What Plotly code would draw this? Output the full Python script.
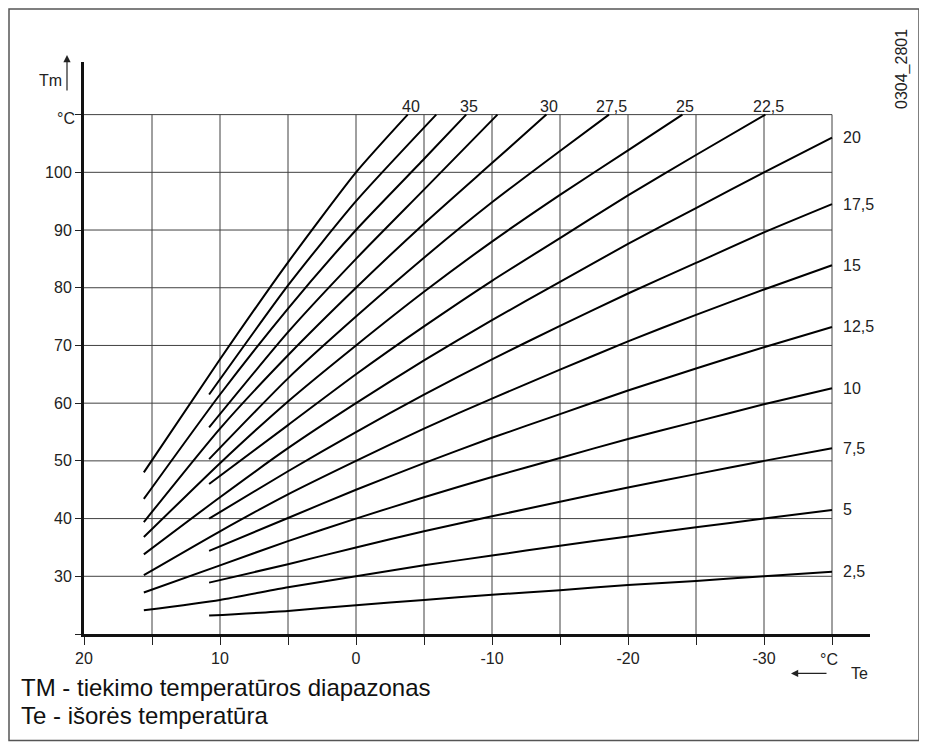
import plotly.graph_objects as go

# ---------------- data ----------------
# slope label of each heating curve
slopes = [40, 37.5, 35, 32.5, 30, 27.5, 25, 22.5, 20, 17.5, 15, 12.5, 10, 7.5, 5, 2.5]
slope_text = ["40", "37,5", "35", "32,5", "30", "27,5", "25", "22,5",
              "20", "17,5", "15", "12,5", "10", "7,5", "5", "2,5"]
top_labelled = ["40", "35", "30", "27,5", "25", "22,5"]

# outside temperature Te (°C) and flow temperature Tm (°C) per curve
te_40 = [15.6, 10, 5, 0, -3.8]
tm_40 = [48.0, 67.6, 84.4, 100.0, 110.0]
te_375 = [10.8, 5, 0, -5.9]
tm_375 = [61.5, 80.4, 95.0, 110.0]
te_35 = [15.6, 10, 5, 0, -5, -8.1]
tm_35 = [43.4, 61.5, 76.4, 90.0, 102.3, 110.0]
te_325 = [10.8, 5, 0, -5, -10.4]
tm_325 = [55.8, 72.3, 85.0, 97.0, 110.0]
te_30 = [15.6, 10, 5, 0, -5, -10, -14.0]
tm_30 = [39.4, 55.6, 68.3, 80.0, 91.1, 101.6, 110.0]
te_275 = [10.8, 5, 0, -5, -10, -15, -18.6]
tm_275 = [50.3, 64.3, 75.0, 85.2, 94.8, 103.7, 110.0]
te_25 = [15.6, 10, 5, 0, -5, -10, -15, -20, -24.0]
tm_25 = [36.8, 49.6, 60.3, 70.0, 79.3, 88.0, 96.1, 103.8, 110.0]
te_225 = [10.8, 5, 0, -5, -10, -15, -20, -25, -30.1]
tm_225 = [46.0, 56.2, 65.0, 73.3, 81.2, 88.6, 96.0, 103.0, 110.0]
te_20 = [15.6, 10, 5, 0, -5, -10, -15, -20, -25, -30, -35]
tm_20 = [33.8, 43.7, 52.2, 60.0, 67.4, 74.4, 81.0, 87.6, 93.8, 100.0, 106.0]
te_175 = [10.8, 5, 0, -5, -10, -15, -20, -25, -30, -35]
tm_175 = [40.0, 48.2, 55.0, 61.5, 67.6, 73.4, 79.0, 84.3, 89.6, 94.5]
te_15 = [15.6, 10, 5, 0, -5, -10, -15, -20, -25, -30, -35]
tm_15 = [30.2, 37.8, 44.2, 50.0, 55.6, 60.8, 65.8, 70.7, 75.3, 79.7, 83.9]
te_125 = [10.8, 5, 0, -5, -10, -15, -20, -25, -30, -35]
tm_125 = [34.4, 40.1, 45.0, 49.6, 54.0, 58.1, 62.2, 66.0, 69.7, 73.2]
te_10 = [15.6, 10, 5, 0, -5, -10, -15, -20, -25, -30, -35]
tm_10 = [27.2, 31.9, 36.1, 40.0, 43.7, 47.2, 50.5, 53.8, 56.8, 59.8, 62.6]
te_75 = [10.8, 5, 0, -5, -10, -15, -20, -25, -30, -35]
tm_75 = [28.9, 32.1, 35.0, 37.8, 40.4, 42.9, 45.4, 47.7, 50.0, 52.2]
te_5 = [15.6, 10, 5, 0, -5, -10, -15, -20, -25, -30, -35]
tm_5 = [24.1, 25.9, 28.1, 30.0, 31.9, 33.6, 35.3, 36.9, 38.5, 40.0, 41.5]
te_25b = [10.8, 5, 0, -5, -10, -15, -20, -25, -30, -35]
tm_25b = [23.2, 24.0, 25.0, 25.9, 26.8, 27.6, 28.5, 29.2, 30.0, 30.8]

curves_te = [te_40, te_375, te_35, te_325, te_30, te_275, te_25, te_225,
             te_20, te_175, te_15, te_125, te_10, te_75, te_5, te_25b]
curves_tm = [tm_40, tm_375, tm_35, tm_325, tm_30, tm_275, tm_25, tm_225,
             tm_20, tm_175, tm_15, tm_125, tm_10, tm_75, tm_5, tm_25b]

# axis ticks
x_ticks = [20, 15, 10, 5, 0, -5, -10, -15, -20, -25, -30, -35]
x_labels = ["20", "", "10", "", "0", "", "-10", "", "-20", "", "-30", ""]
y_ticks = [20, 30, 40, 50, 60, 70, 80, 90, 100, 110]
y_labels = ["", "30", "40", "50", "60", "70", "80", "90", "100", ""]

# ---------------- layout geometry ----------------
OFF = 8                                # page body margin of the browser
W, H = 927 - OFF, 744 - OFF
L, R, T, B = 84 - OFF, 870 - OFF, 62 - OFF, 634.5 - OFF   # plot area (px)
PX_X = 13.6                            # pixels per °C (Te)
PX_Y = 5.776                           # pixels per °C (Tm)
x_range = [20, 20 - (R - L) / PX_X]
y_range = [20, 20 + (B - T) / PX_Y]

def pxx(px):
    return (px - OFF - L) / (R - L)

def pxy(py):
    return (B - (py - OFF)) / (B - T)

FONT = "Liberation Sans, Arial, sans-serif"
TXT = "#222"
FS = 16

fig = go.Figure()

for te, tm in zip(curves_te, curves_tm):
    fig.add_trace(go.Scatter(
        x=te, y=tm, mode="lines",
        line=dict(color="black", width=2, shape="spline", smoothing=0.6),
        hoverinfo="skip", showlegend=False, cliponaxis=False))

shapes = []
grid_col = "#404040"
for xv in x_ticks[1:]:
    shapes.append(dict(type="line", xref="x", yref="y", x0=xv, x1=xv,
                       y0=y_ticks[0], y1=y_ticks[-1],
                       line=dict(color=grid_col, width=1), layer="below"))
for yv in y_ticks[1:]:
    shapes.append(dict(type="line", xref="x", yref="y", x0=x_ticks[0], x1=x_ticks[-1],
                       y0=yv, y1=yv,
                       line=dict(color=grid_col, width=1), layer="below"))
# outer frame
shapes.append(dict(type="rect", xref="paper", yref="paper",
                   x0=pxx(9), x1=pxx(919), y0=pxy(741), y1=pxy(9),
                   line=dict(color="#555", width=1.5), layer="below"))

annotations = []
# slope labels
for te, tm, lab in zip(curves_te, curves_tm, slope_text):
    if lab in top_labelled:
        annotations.append(dict(x=te[-1], y=tm[-1], xref="x", yref="y", text=lab,
                                showarrow=False, xanchor="center", yanchor="bottom",
                                xshift=3, yshift=-2, font=dict(size=FS, color=TXT, family=FONT)))
    elif te[-1] == x_ticks[-1]:
        annotations.append(dict(x=te[-1], y=tm[-1], xref="x", yref="y", text=lab,
                                showarrow=False, xanchor="left", yanchor="middle",
                                xshift=9, font=dict(size=FS, color=TXT, family=FONT)))

# °C unit at the top of the Tm axis
annotations.append(dict(x=pxx(77), y=pxy(119), xref="paper", yref="paper", text="°C",
                        showarrow=False, xanchor="right", yanchor="middle",
                        font=dict(size=FS, color=TXT, family=FONT)))
# Tm axis arrow and label
annotations.append(dict(x=pxx(67), y=pxy(55), xref="paper", yref="paper", text="",
                        showarrow=True, ax=0, ay=37, arrowhead=2, arrowsize=1.2,
                        arrowwidth=1.2, arrowcolor=TXT))
annotations.append(dict(x=pxx(64), y=pxy(81), xref="paper", yref="paper", text="Tm",
                        showarrow=False, xanchor="right", yanchor="middle",
                        font=dict(size=FS, color=TXT, family=FONT)))
# Te axis arrow and label
annotations.append(dict(x=pxx(791), y=pxy(674), xref="paper", yref="paper", text="",
                        showarrow=True, ax=37, ay=0, arrowhead=2, arrowsize=1.2,
                        arrowwidth=1.2, arrowcolor=TXT))
annotations.append(dict(x=pxx(829), y=pxy(660), xref="paper", yref="paper", text="°C",
                        showarrow=False, xanchor="center", yanchor="middle",
                        font=dict(size=FS, color=TXT, family=FONT)))
annotations.append(dict(x=pxx(859), y=pxy(674), xref="paper", yref="paper", text="Te",
                        showarrow=False, xanchor="center", yanchor="middle",
                        font=dict(size=FS, color=TXT, family=FONT)))
# legend texts
annotations.append(dict(x=pxx(19), y=pxy(688), xref="paper", yref="paper",
                        text="TM - tiekimo temperatūros diapazonas",
                        showarrow=False, xanchor="left", yanchor="middle",
                        font=dict(size=24, color="#111", family=FONT)))
annotations.append(dict(x=pxx(19), y=pxy(716), xref="paper", yref="paper",
                        text="Te - išorės temperatūra",
                        showarrow=False, xanchor="left", yanchor="middle",
                        font=dict(size=24, color="#111", family=FONT)))
# drawing number
annotations.append(dict(x=pxx(902), y=pxy(69), xref="paper", yref="paper",
                        text="0304_2801", textangle=-90,
                        showarrow=False, xanchor="center", yanchor="middle",
                        font=dict(size=FS, color=TXT, family=FONT)))

fig.update_layout(
    width=W, height=H, autosize=False,
    margin=dict(l=L, r=W - R, t=T, b=H - B, pad=0),
    paper_bgcolor="white", plot_bgcolor="white",
    shapes=shapes, annotations=annotations,
    font=dict(family=FONT, color=TXT),
    xaxis=dict(range=x_range, showgrid=False, zeroline=False,
               showline=True, linewidth=3, linecolor="#111",
               ticks="outside", ticklen=8, tickwidth=1, tickcolor="#222",
               tickvals=x_ticks, ticktext=x_labels,
               tickfont=dict(size=FS, color=TXT, family=FONT), fixedrange=True),
    yaxis=dict(range=y_range, showgrid=False, zeroline=False,
               showline=True, linewidth=3, linecolor="#111",
               ticks="outside", ticklen=6, tickwidth=1, tickcolor="#222",
               tickvals=y_ticks, ticktext=y_labels,
               tickfont=dict(size=FS, color=TXT, family=FONT), fixedrange=True),
)

fig.write_html("out.html")
